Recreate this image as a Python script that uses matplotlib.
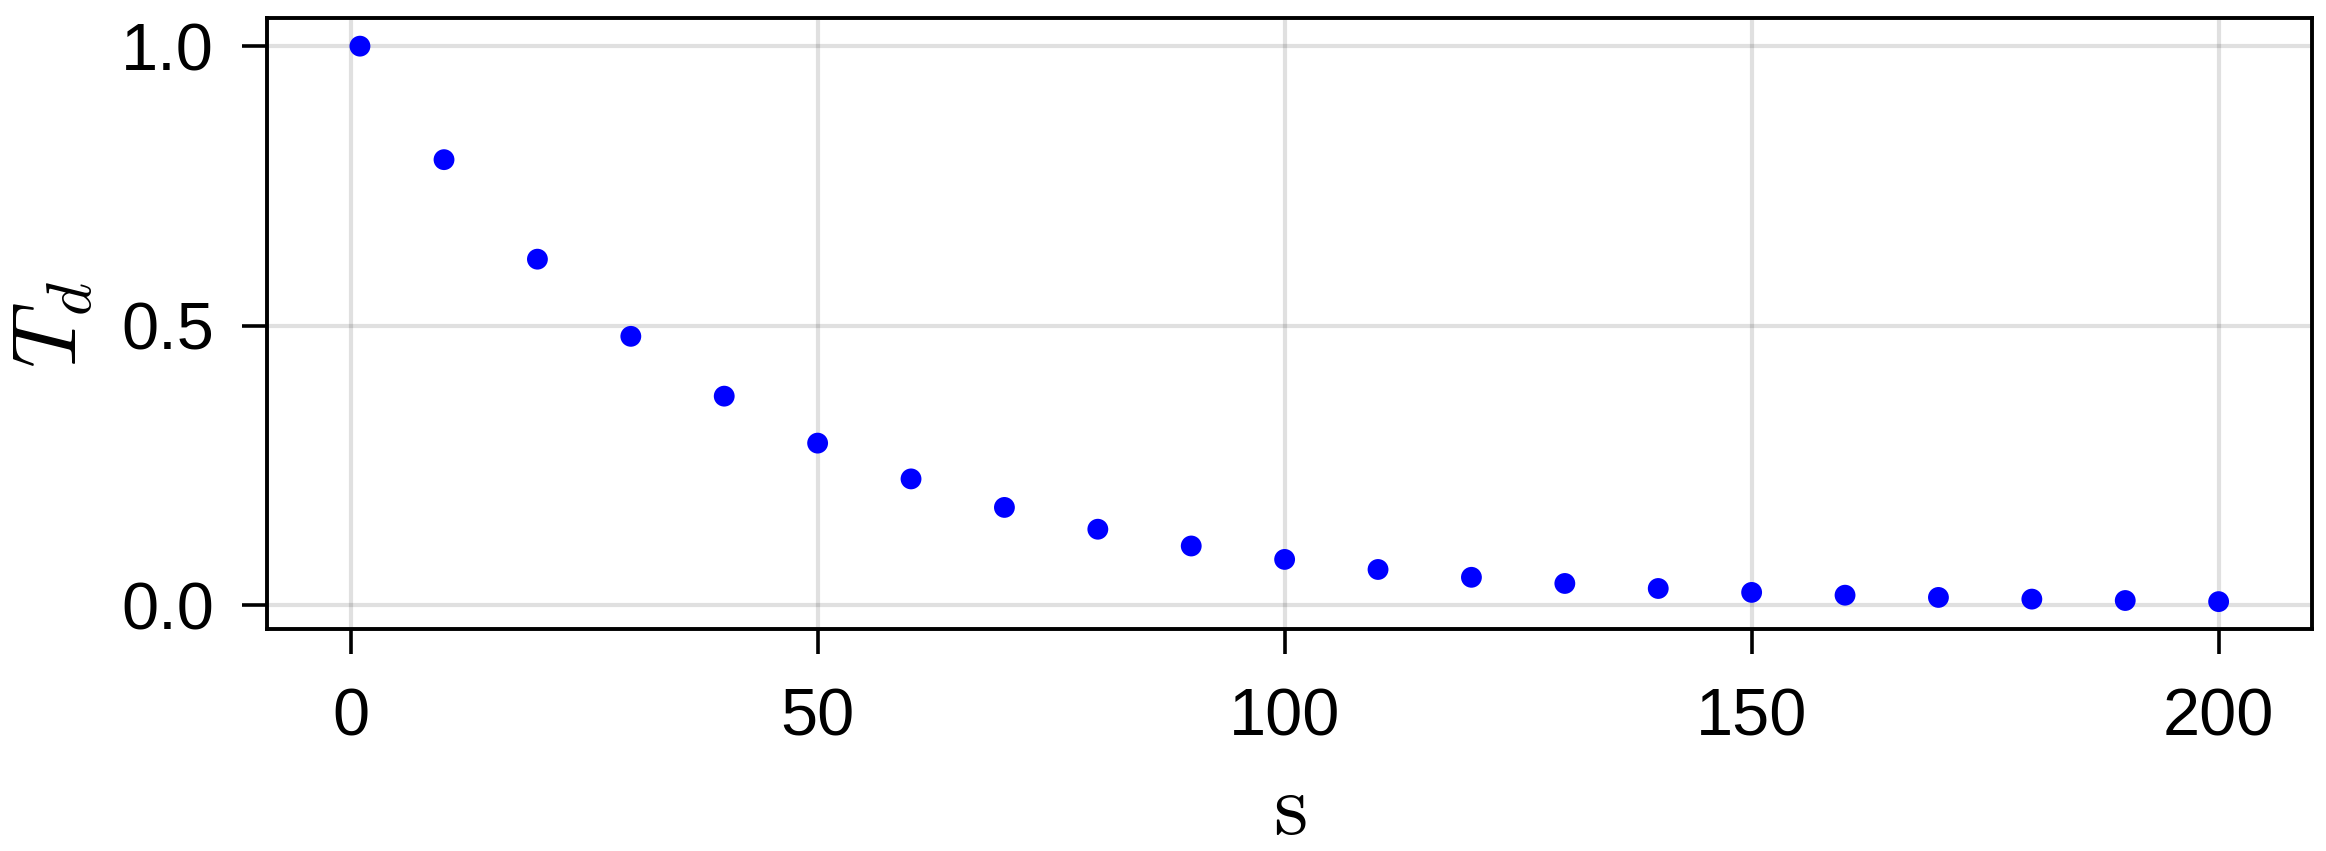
import numpy as np
import matplotlib.pyplot as plt

plt.rcParams['font.family'] = ['Liberation Sans', 'DejaVu Sans']
plt.rcParams['mathtext.fontset'] = 'cm'

# sample points
s = [1, 10, 20, 30, 40, 50, 60, 70, 80, 90, 100,
     110, 120, 130, 140, 150, 160, 170, 180, 190, 200]
Td = [1.0, 0.797, 0.619, 0.481, 0.374, 0.290, 0.226, 0.175, 0.136, 0.106, 0.082,
      0.064, 0.050, 0.039, 0.030, 0.023, 0.018, 0.014, 0.011, 0.0085, 0.0065]

xticks = [0, 50, 100, 150, 200]
yticks = [0.0, 0.5, 1.0]
yticklabels = ['0.0', '0.5', '1.0']

fig = plt.figure(figsize=(23.26, 8.51), dpi=100, facecolor='w')
ax = fig.add_axes([0.1148, 0.2604, 0.879, 0.718])

ax.scatter(s, Td, s=225, color='#0000ff', edgecolors='none', zorder=3)

# 5% margins like Makie
xr = max(s) - min(s)
yr = max(Td) - min(Td)
ax.set_xlim(min(s) - 0.05 * xr, max(s) + 0.05 * xr)
ax.set_ylim(min(Td) - 0.05 * yr, max(Td) + 0.05 * yr)

ax.set_xticks(xticks)
ax.set_yticks(yticks)
ax.set_yticklabels(yticklabels)

ax.set_axisbelow(True)
ax.grid(True, color='black', alpha=0.12, linewidth=3)

for sp in ax.spines.values():
    sp.set_linewidth(2.8)
ax.tick_params(axis='both', direction='out', length=18, width=2.6,
               labelsize=48, pad=20)
ax.tick_params(axis='x', pad=24)

ax.set_xlabel(r'$\mathrm{s}$', fontsize=63)
ax.set_ylabel(r'$T_d$', fontsize=65)
ax.xaxis.set_label_coords(0.5, -0.232)
ax.yaxis.set_label_coords(-0.084, 0.5)

fig.savefig('out.png', dpi=100)
